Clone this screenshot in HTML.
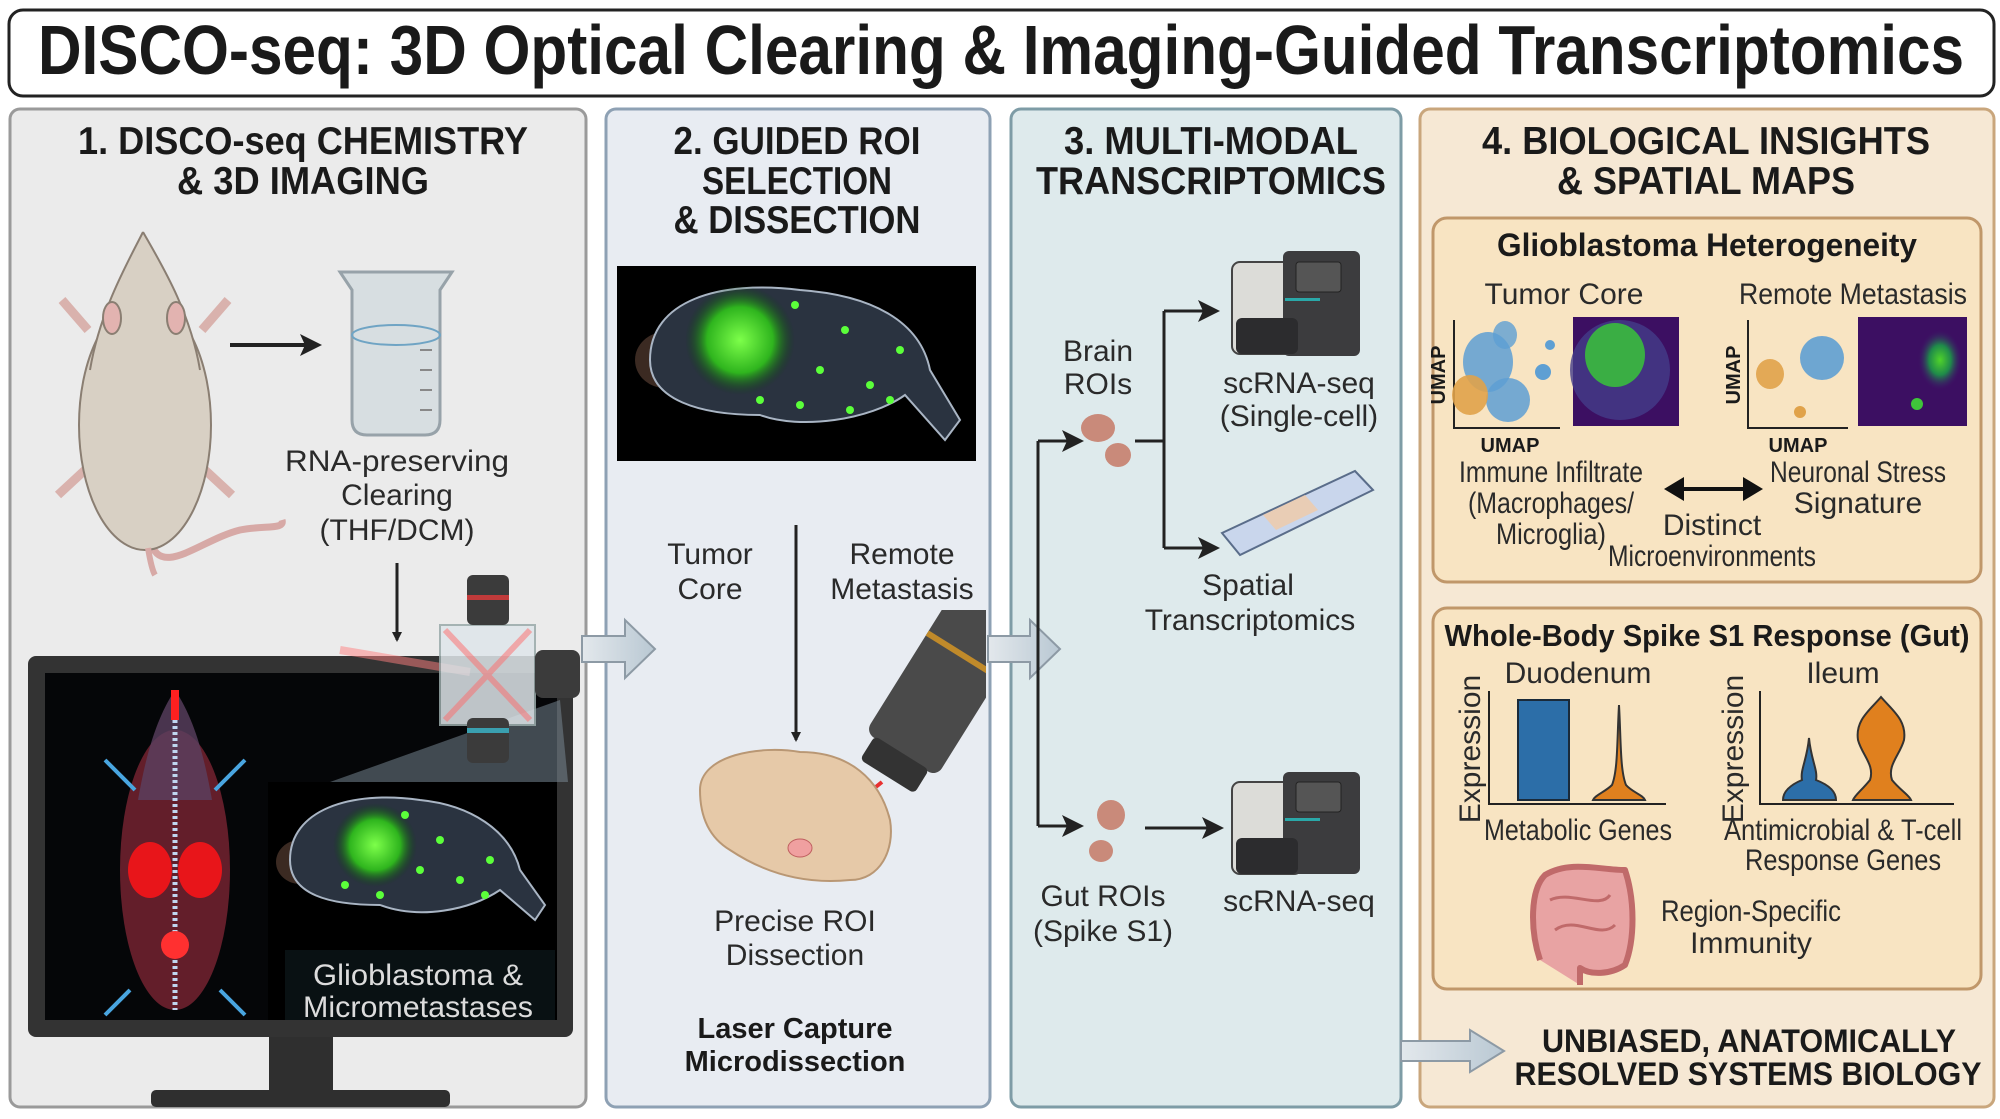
<!DOCTYPE html>
<html><head><meta charset="utf-8"><style>
html,body{margin:0;padding:0;background:#fff}
svg{display:block}
text{font-family:"Liberation Sans",sans-serif}
.h{font-weight:bold;fill:#1a1a1a;font-size:39px}
.l{fill:#2a2a2a;font-size:30px}
.b{font-weight:bold;fill:#1a1a1a}
</style></head><body>
<svg width="2000" height="1119" viewBox="0 0 2000 1119" xmlns="http://www.w3.org/2000/svg">
<defs>
<marker id="ah" markerWidth="10" markerHeight="10" refX="8" refY="5" orient="auto" markerUnits="userSpaceOnUse" viewBox="0 0 10 10"><path d="M0,0 L10,5 L0,10 z" fill="#222"/></marker>
<marker id="ah2" markerWidth="22" markerHeight="22" refX="18" refY="11" orient="auto" markerUnits="userSpaceOnUse" viewBox="0 0 22 22"><path d="M0,0 L22,11 L0,22 L5,11 z" fill="#222"/></marker>
<radialGradient id="gg"><stop offset="0" stop-color="#7dff4a"/><stop offset="0.6" stop-color="#2fb51e"/><stop offset="1" stop-color="#0a4010" stop-opacity="0"/></radialGradient>
<radialGradient id="gp"><stop offset="0" stop-color="#4fd32a"/><stop offset="0.5" stop-color="#1f8a4a"/><stop offset="1" stop-color="#3b1a6a" stop-opacity="0"/></radialGradient>
<linearGradient id="arr" x1="0" x2="1"><stop offset="0" stop-color="#e3e8ec"/><stop offset="1" stop-color="#b9c8d3"/></linearGradient>
<clipPath id="p2c"><rect x="608" y="610" width="378" height="494"/></clipPath>
</defs>

<rect x="9" y="10" width="1985" height="86" rx="14" fill="#fff" stroke="#222" stroke-width="3"/>
<text x="1001" y="74" text-anchor="middle" class="b" font-size="70" textLength="1926" lengthAdjust="spacingAndGlyphs">DISCO-seq: 3D Optical Clearing &amp; Imaging-Guided Transcriptomics</text>

<rect x="10" y="109" width="576" height="998" rx="10" fill="#ebebeb" stroke="#9a9a9a" stroke-width="3"/>
<rect x="606" y="109" width="384" height="998" rx="10" fill="#e8ecf2" stroke="#8ea1b4" stroke-width="3"/>
<rect x="1011" y="109" width="390" height="998" rx="10" fill="#deeaec" stroke="#7e9ca6" stroke-width="3"/>
<rect x="1420" y="109" width="574" height="998" rx="10" fill="#f6e8d4" stroke="#c9a67c" stroke-width="3"/>

<text x="303" y="154" text-anchor="middle" class="h" textLength="450" lengthAdjust="spacingAndGlyphs">1. DISCO-seq CHEMISTRY</text>
<text x="303" y="194" text-anchor="middle" class="h" textLength="252" lengthAdjust="spacingAndGlyphs">&amp; 3D IMAGING</text>
<text x="797" y="154" text-anchor="middle" class="h" textLength="247" lengthAdjust="spacingAndGlyphs">2. GUIDED ROI</text>
<text x="797" y="194" text-anchor="middle" class="h" textLength="190" lengthAdjust="spacingAndGlyphs">SELECTION</text>
<text x="797" y="233" text-anchor="middle" class="h" textLength="247" lengthAdjust="spacingAndGlyphs">&amp; DISSECTION</text>
<text x="1211" y="154" text-anchor="middle" class="h" textLength="294" lengthAdjust="spacingAndGlyphs">3. MULTI-MODAL</text>
<text x="1211" y="194" text-anchor="middle" class="h" textLength="350" lengthAdjust="spacingAndGlyphs">TRANSCRIPTOMICS</text>
<text x="1706" y="154" text-anchor="middle" class="h" textLength="448" lengthAdjust="spacingAndGlyphs">4. BIOLOGICAL INSIGHTS</text>
<text x="1706" y="194" text-anchor="middle" class="h" textLength="298" lengthAdjust="spacingAndGlyphs">&amp; SPATIAL MAPS</text>

<!-- ===== Panel 1 ===== -->
<g stroke="#8a7e72" stroke-width="2">
<path d="M150,540 C160,580 200,540 240,530 C265,525 285,530 282,520" fill="none" stroke="#d7a9a6" stroke-width="7"/>
<path d="M88,330 L62,300 M202,330 L228,300 M85,470 L58,495 M205,470 L232,495" stroke="#d9b2ad" stroke-width="9"/>
<ellipse cx="145" cy="425" rx="66" ry="125" fill="#d8d0c4"/>
<path d="M143,232 C128,262 100,310 90,370 L200,370 C190,310 160,262 143,232 z" fill="#d8d0c4" stroke="none"/>
<path d="M143,232 C128,262 100,310 90,370 M143,232 C160,262 190,310 200,370" fill="none"/>
<ellipse cx="112" cy="318" rx="9" ry="16" fill="#e2b3b0"/>
<ellipse cx="176" cy="318" rx="9" ry="16" fill="#e2b3b0"/>
<path d="M148,548 C150,560 152,570 155,575" fill="none" stroke="#d7a9a6" stroke-width="6"/>
</g>
<line x1="230" y1="345" x2="318" y2="345" stroke="#222" stroke-width="4" marker-end="url(#ah2)"/>
<path d="M340,272 L452,272 L440,290 L440,420 Q440,435 425,435 L367,435 Q352,435 352,420 L352,290 z" fill="#d5dde1" stroke="#8f9ba2" stroke-width="3" opacity="0.9"/>
<ellipse cx="396" cy="335" rx="44" ry="10" fill="none" stroke="#6fa4c4" stroke-width="2"/>
<g stroke="#888" stroke-width="2"><line x1="420" y1="350" x2="432" y2="350"/><line x1="420" y1="370" x2="432" y2="370"/><line x1="420" y1="390" x2="432" y2="390"/><line x1="420" y1="410" x2="432" y2="410"/></g>
<text x="397" y="471" text-anchor="middle" class="l" textLength="224" lengthAdjust="spacingAndGlyphs">RNA-preserving</text>
<text x="397" y="505" text-anchor="middle" class="l">Clearing</text>
<text x="397" y="540" text-anchor="middle" class="l">(THF/DCM)</text>
<line x1="397" y1="563" x2="397" y2="640" stroke="#222" stroke-width="3" marker-end="url(#ah)"/>
<rect x="28" y="656" width="545" height="381" rx="8" fill="#333"/>
<rect x="45" y="673" width="512" height="347" fill="#050608"/>
<rect x="269" y="1037" width="64" height="55" fill="#2f2f2f"/>
<rect x="151" y="1090" width="299" height="17" rx="5" fill="#2f2f2f"/>
<g>
<ellipse cx="175" cy="870" rx="55" ry="140" fill="#7a2433" opacity="0.8"/>
<path d="M175,690 C155,720 145,760 138,800 L212,800 C205,760 195,720 175,690 z" fill="#5a4060" opacity="0.8"/>
<line x1="175" y1="720" x2="175" y2="1010" stroke="#c0d6f0" stroke-width="5" stroke-dasharray="3 3"/>
<ellipse cx="150" cy="870" rx="22" ry="28" fill="#e8151a"/>
<ellipse cx="200" cy="870" rx="22" ry="28" fill="#e8151a"/>
<circle cx="175" cy="945" r="14" fill="#ff3030"/>
<path d="M175,690 L175,720" stroke="#ff2020" stroke-width="8"/>
<g stroke="#49a5e0" stroke-width="4" fill="none"><path d="M135,790 L105,760"/><path d="M215,790 L245,760"/><path d="M130,990 L105,1015"/><path d="M220,990 L245,1015"/></g>
</g>
<path d="M560,700 L568,782 L330,782 z" fill="#7d8e99" opacity="0.5"/>
<rect x="268" y="782" width="289" height="238" fill="#000"/>
<ellipse cx="300" cy="862" rx="24" ry="22" fill="#3b2a22"/>
<path d="M290,860 C290,810 350,790 420,800 C470,805 510,830 520,870 L545,905 L535,920 L500,890 C470,910 420,920 380,905 C330,905 290,895 290,860 z" fill="#2a3340" stroke="#a9b5c4" stroke-width="2"/>
<circle cx="375" cy="845" r="42" fill="url(#gg)"/>
<g fill="#5bff3a"><circle cx="405" cy="815" r="4"/><circle cx="440" cy="840" r="4"/><circle cx="420" cy="870" r="4"/><circle cx="380" cy="895" r="4"/><circle cx="460" cy="880" r="4"/><circle cx="490" cy="860" r="4"/><circle cx="485" cy="895" r="4"/><circle cx="345" cy="885" r="4"/></g>
<rect x="285" y="950" width="270" height="70" fill="#0b1518" opacity="0.8"/>
<text x="418" y="985" text-anchor="middle" fill="#dcdcdc" font-size="30" textLength="210" lengthAdjust="spacingAndGlyphs">Glioblastoma &amp;</text>
<text x="418" y="1017" text-anchor="middle" fill="#dcdcdc" font-size="30" textLength="230" lengthAdjust="spacingAndGlyphs">Micrometastases</text>
<path d="M340,650 L470,672" stroke="#ff8080" stroke-width="8" opacity="0.5"/>
<rect x="440" y="625" width="95" height="100" fill="#dfe6ea" stroke="#9aa" stroke-width="2" opacity="0.85"/>
<path d="M445,630 L530,720 M530,630 L445,720" stroke="#ff6a6a" stroke-width="6" opacity="0.5"/>
<rect x="467" y="575" width="42" height="50" rx="6" fill="#3b3b3b"/><rect x="467" y="595" width="42" height="5" fill="#c03a3a"/>
<rect x="467" y="718" width="42" height="45" rx="6" fill="#3b3b3b"/><rect x="467" y="728" width="42" height="5" fill="#3aa0b0"/>
<rect x="535" y="650" width="45" height="48" rx="8" fill="#3b3b3b"/>
<path d="M582,636 L625,636 L625,620 L655,649 L625,678 L625,662 L582,662 z" fill="url(#arr)" stroke="#8d9aa5" stroke-width="2"/>

<!-- ===== Panel 2 ===== -->
<rect x="617" y="266" width="359" height="195" fill="#000"/>
<ellipse cx="665" cy="360" rx="30" ry="28" fill="#3b2a22"/>
<path d="M650,360 C650,300 720,280 800,290 C870,295 920,320 930,370 L960,420 L945,440 L905,395 C870,420 800,430 760,415 C700,415 650,400 650,360 z" fill="#2a3340" stroke="#a9b5c4" stroke-width="2"/>
<circle cx="740" cy="340" r="55" fill="url(#gg)"/>
<g fill="#5bff3a"><circle cx="795" cy="305" r="4"/><circle cx="845" cy="330" r="4"/><circle cx="820" cy="370" r="4"/><circle cx="760" cy="400" r="4"/><circle cx="870" cy="385" r="4"/><circle cx="900" cy="350" r="4"/><circle cx="890" cy="400" r="4"/><circle cx="850" cy="410" r="4"/><circle cx="800" cy="405" r="4"/></g>
<text x="710" y="564" text-anchor="middle" class="l">Tumor</text>
<text x="710" y="599" text-anchor="middle" class="l">Core</text>
<text x="902" y="564" text-anchor="middle" class="l">Remote</text>
<text x="902" y="599" text-anchor="middle" class="l">Metastasis</text>
<line x1="796" y1="525" x2="796" y2="740" stroke="#222" stroke-width="3" marker-end="url(#ah)"/>
<g clip-path="url(#p2c)">
<g transform="translate(885,780) rotate(32)">
<rect x="-42" y="-200" width="84" height="170" rx="10" fill="#4a4a4a"/>
<rect x="-42" y="-150" width="84" height="6" fill="#c08a2a"/>
<rect x="-32" y="-32" width="64" height="28" rx="5" fill="#333"/>
</g>
</g>
<line x1="882" y1="782" x2="800" y2="848" stroke="#e83030" stroke-width="4"/>
<path d="M700,790 C700,755 760,745 800,752 C850,752 880,780 890,820 C895,850 880,880 850,880 C800,885 760,870 730,850 C705,835 700,810 700,790 z" fill="#e6c9a8" stroke="#b99774" stroke-width="2"/>
<ellipse cx="800" cy="848" rx="12" ry="9" fill="#f0a0a0" stroke="#c06060"/>
<text x="795" y="931" text-anchor="middle" class="l">Precise ROI</text>
<text x="795" y="965" text-anchor="middle" class="l">Dissection</text>
<text x="795" y="1038" text-anchor="middle" class="b" font-size="29">Laser Capture</text>
<text x="795" y="1071" text-anchor="middle" class="b" font-size="29">Microdissection</text>
<path d="M988,636 L1030,636 L1030,620 L1060,649 L1030,678 L1030,662 L988,662 z" fill="url(#arr)" stroke="#8d9aa5" stroke-width="2"/>

<!-- ===== Panel 3 ===== -->
<text x="1098" y="361" text-anchor="middle" class="l">Brain</text>
<text x="1098" y="394" text-anchor="middle" class="l">ROIs</text>
<ellipse cx="1098" cy="428" rx="17" ry="14" fill="#c98a7a"/>
<ellipse cx="1118" cy="455" rx="13" ry="12" fill="#c98a7a"/>
<g stroke="#222" stroke-width="3" fill="none">
<line x1="1038" y1="826" x2="1038" y2="441"/>
<line x1="1038" y1="441" x2="1080" y2="441" marker-end="url(#ah2)"/>
<line x1="1038" y1="826" x2="1080" y2="826" marker-end="url(#ah2)"/>
<line x1="1135" y1="441" x2="1164" y2="441"/>
<line x1="1164" y1="311" x2="1164" y2="548"/>
<line x1="1164" y1="311" x2="1216" y2="311" marker-end="url(#ah2)"/>
<line x1="1164" y1="548" x2="1216" y2="548" marker-end="url(#ah2)"/>
<line x1="1145" y1="828" x2="1220" y2="828" marker-end="url(#ah2)"/>
</g>
<g>
<rect x="1232" y="262" width="70" height="92" rx="8" fill="#dcdcd8" stroke="#444" stroke-width="2"/>
<rect x="1283" y="251" width="77" height="105" rx="6" fill="#3c3c3e"/>
<rect x="1296" y="262" width="45" height="30" rx="3" fill="#555" stroke="#222"/>
<rect x="1285" y="298" width="35" height="3" fill="#2aa8a8"/>
<rect x="1236" y="318" width="62" height="36" rx="6" fill="#2c2c2e"/>
</g>
<text x="1299" y="393" text-anchor="middle" class="l">scRNA-seq</text>
<text x="1299" y="426" text-anchor="middle" class="l">(Single-cell)</text>
<path d="M1222,533 L1355,471 L1373,490 L1240,555 z" fill="#c9d6ec" stroke="#5a6d8a" stroke-width="2"/>
<path d="M1263,515 L1305,495 L1318,510 L1276,530 z" fill="#e9cdb5"/>
<text x="1248" y="595" text-anchor="middle" class="l">Spatial</text>
<text x="1250" y="630" text-anchor="middle" class="l">Transcriptomics</text>
<ellipse cx="1111" cy="815" rx="14" ry="15" fill="#c98a7a"/>
<ellipse cx="1101" cy="851" rx="12" ry="11" fill="#c98a7a"/>
<g>
<rect x="1232" y="782" width="70" height="92" rx="8" fill="#dcdcd8" stroke="#444" stroke-width="2"/>
<rect x="1283" y="772" width="77" height="102" rx="6" fill="#3c3c3e"/>
<rect x="1296" y="782" width="45" height="30" rx="3" fill="#555" stroke="#222"/>
<rect x="1285" y="818" width="35" height="3" fill="#2aa8a8"/>
<rect x="1236" y="838" width="62" height="36" rx="6" fill="#2c2c2e"/>
</g>
<text x="1299" y="911" text-anchor="middle" class="l">scRNA-seq</text>
<text x="1103" y="906" text-anchor="middle" class="l">Gut ROIs</text>
<text x="1103" y="941" text-anchor="middle" class="l">(Spike S1)</text>
<path d="M1401,1041 L1470,1041 L1470,1030 L1504,1051 L1470,1072 L1470,1061 L1401,1061 z" fill="url(#arr)" stroke="#8d9aa5" stroke-width="2"/>

<!-- ===== Panel 4 ===== -->
<rect x="1433" y="218" width="548" height="364" rx="14" fill="#f8e4c2" stroke="#c0976a" stroke-width="3"/>
<text x="1707" y="256" text-anchor="middle" class="b" font-size="32" textLength="420" lengthAdjust="spacingAndGlyphs">Glioblastoma Heterogeneity</text>
<text x="1564" y="304" text-anchor="middle" class="l" font-size="28">Tumor Core</text>
<text x="1853" y="304" text-anchor="middle" class="l" font-size="28" textLength="228" lengthAdjust="spacingAndGlyphs">Remote Metastasis</text>
<g stroke="#222" stroke-width="2" fill="none"><path d="M1454,320 L1454,428 L1560,428"/><path d="M1748,320 L1748,428 L1848,428"/></g>
<ellipse cx="1488" cy="362" rx="25" ry="30" fill="#5e9fd3" opacity="0.85"/>
<ellipse cx="1508" cy="400" rx="22" ry="22" fill="#5e9fd3" opacity="0.85"/>
<ellipse cx="1470" cy="395" rx="18" ry="20" fill="#e0a24a" opacity="0.9"/>
<ellipse cx="1505" cy="335" rx="12" ry="14" fill="#5e9fd3" opacity="0.8"/>
<circle cx="1543" cy="372" r="8" fill="#5e9fd3"/><circle cx="1550" cy="345" r="5" fill="#5e9fd3"/>
<rect x="1573" y="317" width="106" height="109" fill="#3c0f62"/>
<ellipse cx="1620" cy="370" rx="50" ry="50" fill="#433c8a" opacity="0.8"/>
<ellipse cx="1615" cy="355" rx="30" ry="32" fill="#38c43a" opacity="0.85"/>
<ellipse cx="1770" cy="374" rx="14" ry="15" fill="#e0a24a" opacity="0.9"/>
<ellipse cx="1822" cy="358" rx="22" ry="22" fill="#5e9fd3" opacity="0.9"/>
<circle cx="1800" cy="412" r="6" fill="#e0a24a"/>
<rect x="1858" y="317" width="109" height="109" fill="#3c0f62"/>
<ellipse cx="1940" cy="360" rx="22" ry="30" fill="url(#gp)"/>
<circle cx="1917" cy="404" r="6" fill="#3fc43a"/>
<text x="1445" y="375" class="b" font-size="20" transform="rotate(-90 1445 375)" text-anchor="middle">UMAP</text>
<text x="1740" y="375" class="b" font-size="20" transform="rotate(-90 1740 375)" text-anchor="middle">UMAP</text>
<text x="1510" y="452" text-anchor="middle" class="b" font-size="20">UMAP</text>
<text x="1798" y="452" text-anchor="middle" class="b" font-size="20">UMAP</text>
<text x="1551" y="482" text-anchor="middle" class="l" font-size="27" textLength="184" lengthAdjust="spacingAndGlyphs">Immune Infiltrate</text>
<text x="1551" y="513" text-anchor="middle" class="l" font-size="27" textLength="166" lengthAdjust="spacingAndGlyphs">(Macrophages/</text>
<text x="1551" y="544" text-anchor="middle" class="l" font-size="27" textLength="110" lengthAdjust="spacingAndGlyphs">Microglia)</text>
<text x="1858" y="482" text-anchor="middle" class="l" font-size="27" textLength="176" lengthAdjust="spacingAndGlyphs">Neuronal Stress</text>
<text x="1858" y="513" text-anchor="middle" class="l" font-size="27">Signature</text>
<text x="1712" y="535" text-anchor="middle" class="l" font-size="27">Distinct</text>
<text x="1712" y="566" text-anchor="middle" class="l" font-size="27" textLength="208" lengthAdjust="spacingAndGlyphs">Microenvironments</text>
<g stroke="#111" stroke-width="4"><line x1="1680" y1="489" x2="1747" y2="489"/></g>
<path d="M1664,489 L1684,477 L1684,501 z M1763,489 L1743,477 L1743,501 z" fill="#111"/>

<rect x="1433" y="608" width="548" height="381" rx="14" fill="#f8e4c2" stroke="#c0976a" stroke-width="3"/>
<text x="1707" y="646" text-anchor="middle" class="b" font-size="31" textLength="525" lengthAdjust="spacingAndGlyphs">Whole-Body Spike S1 Response (Gut)</text>
<text x="1578" y="683" text-anchor="middle" class="l" font-size="27">Duodenum</text>
<text x="1843" y="683" text-anchor="middle" class="l" font-size="27">Ileum</text>
<g stroke="#222" stroke-width="2" fill="none"><path d="M1489,691 L1489,804 L1666,804"/><path d="M1760,691 L1760,804 L1954,804"/></g>
<text x="1480" y="749" class="l" font-size="24" transform="rotate(-90 1480 749)" text-anchor="middle">Expression</text>
<text x="1743" y="749" class="l" font-size="24" transform="rotate(-90 1743 749)" text-anchor="middle">Expression</text>
<rect x="1518" y="700" width="51" height="100" fill="#2c6ea8" stroke="#1a2a3a" stroke-width="2"/>
<path d="M1619,705 C1617,740 1618,770 1612,785 C1605,792 1595,795 1593,800 L1645,800 C1643,795 1632,792 1626,785 C1620,770 1621,740 1619,705 z" fill="#e0801e" stroke="#333" stroke-width="2"/>
<path d="M1809,738 C1807,760 1800,770 1802,780 C1790,785 1783,792 1783,800 L1836,800 C1836,792 1829,785 1816,780 C1818,770 1811,760 1809,738 z" fill="#2c6ea8" stroke="#333" stroke-width="2"/>
<path d="M1881,697 C1870,710 1855,720 1858,740 C1862,755 1875,765 1870,780 C1862,790 1855,795 1853,800 L1911,800 C1909,795 1900,790 1892,780 C1887,765 1900,755 1904,740 C1907,720 1892,710 1881,697 z" fill="#e0801e" stroke="#333" stroke-width="2"/>
<text x="1578" y="840" text-anchor="middle" class="l" font-size="27" textLength="188" lengthAdjust="spacingAndGlyphs">Metabolic Genes</text>
<text x="1843" y="840" text-anchor="middle" class="l" font-size="27" textLength="238" lengthAdjust="spacingAndGlyphs">Antimicrobial &amp; T-cell</text>
<text x="1843" y="870" text-anchor="middle" class="l" font-size="27" textLength="196" lengthAdjust="spacingAndGlyphs">Response Genes</text>
<path d="M1540,960 C1530,930 1530,890 1545,875 C1570,860 1600,870 1625,870 C1635,900 1635,940 1625,965 C1610,975 1590,975 1580,968 L1580,985" fill="#e8a3a3" stroke="#c06a6a" stroke-width="6" stroke-linejoin="round"/>
<path d="M1550,900 C1570,890 1600,910 1610,895 M1555,930 C1575,915 1600,940 1615,925" fill="none" stroke="#c06a6a" stroke-width="3"/>
<text x="1751" y="921" text-anchor="middle" class="l" font-size="27" textLength="180" lengthAdjust="spacingAndGlyphs">Region-Specific</text>
<text x="1751" y="953" text-anchor="middle" class="l" font-size="27">Immunity</text>

<text x="1749" y="1052" text-anchor="middle" class="b" font-size="32" textLength="414" lengthAdjust="spacingAndGlyphs">UNBIASED, ANATOMICALLY</text>
<text x="1748" y="1085" text-anchor="middle" class="b" font-size="32" textLength="467" lengthAdjust="spacingAndGlyphs">RESOLVED SYSTEMS BIOLOGY</text>
</svg>
</body></html>
